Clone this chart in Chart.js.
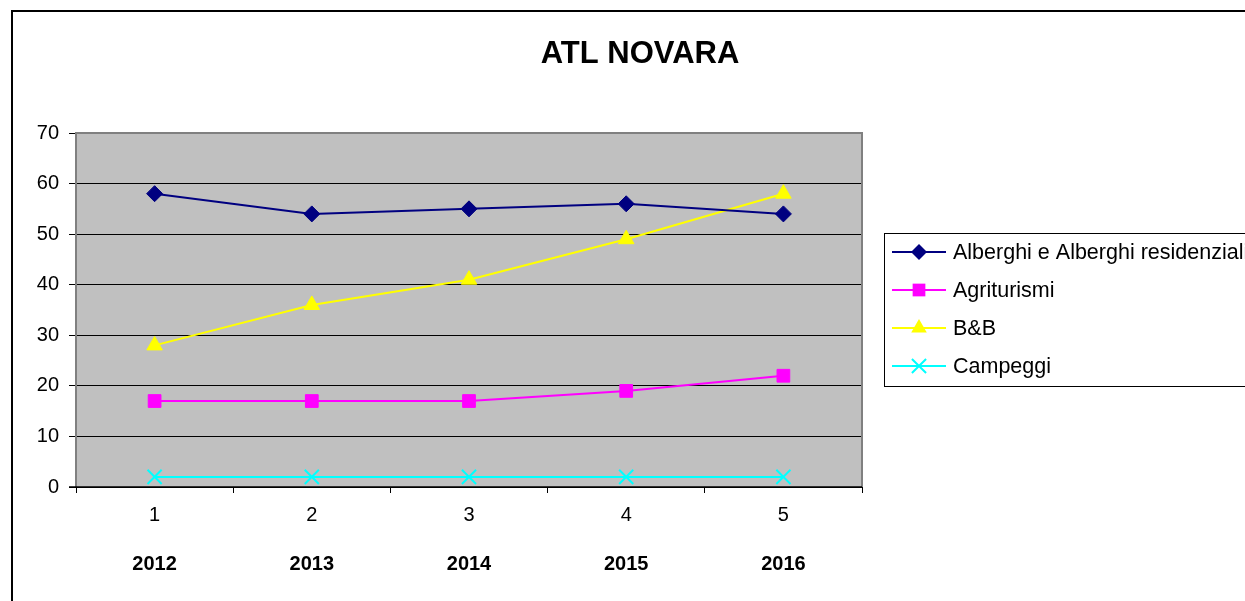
<!DOCTYPE html>
<html>
<head>
<meta charset="utf-8">
<script src="https://cdn.jsdelivr.net/npm/chart.js@4.4.0/dist/chart.umd.min.js"></script>
<style>
html,body{margin:0;padding:0;background:#fff;}
#wrap{width:1245px;height:601px;position:relative;}
</style>
</head>
<body>
<div id="wrap"><canvas id="c" width="1245" height="601"></canvas></div>
<script>
const chartTitle = "ATL NOVARA";
const indexLabels = ["1", "2", "3", "4", "5"];
const years = ["2012", "2013", "2014", "2015", "2016"];
const seriesNames = ["Alberghi e Alberghi residenziali", "Agriturismi", "B&B", "Campeggi"];
const alberghi = [58, 54, 55, 56, 54];
const agriturismi = [17, 17, 17, 19, 22];
const bb = [28, 36, 41, 49, 58];
const campeggi = [2, 2, 2, 2, 2];
const yTicks = [0, 10, 20, 30, 40, 50, 60, 70];

const FONT = '"Liberation Sans", Arial, sans-serif';
const colors = ["#000080", "#FF00FF", "#FFFF00", "#00FFFF"];
const styles = ["rectRot", "rect", "triangle", "crossRot"];
const radii = [8, 9, 9, 10];
const values = [alberghi, agriturismi, bb, campeggi];

const datasets = values.map((v, i) => ({
  label: seriesNames[i],
  data: v,
  xAxisID: 'x',
  borderColor: colors[i],
  backgroundColor: colors[i],
  pointBackgroundColor: colors[i],
  pointBorderColor: colors[i],
  pointStyle: styles[i],
  pointRadius: radii[i],
  pointHoverRadius: radii[i],
  pointBorderWidth: i === 3 ? 2 : 1,
  borderWidth: 2,
  tension: 0,
  fill: false
}));

function drawMarker(ctx, style, r, x, y, color) {
  ctx.save();
  ctx.fillStyle = color;
  ctx.strokeStyle = color;
  ctx.beginPath();
  if (style === 'rectRot') {
    ctx.moveTo(x, y - r); ctx.lineTo(x + r, y); ctx.lineTo(x, y + r); ctx.lineTo(x - r, y); ctx.closePath(); ctx.fill();
  } else if (style === 'rect') {
    const s = r * Math.SQRT1_2;
    ctx.rect(x - s, y - s, 2 * s, 2 * s); ctx.fill();
  } else if (style === 'triangle') {
    ctx.moveTo(x, y - r); ctx.lineTo(x + r * Math.sin(Math.PI / 3), y + r / 2); ctx.lineTo(x - r * Math.sin(Math.PI / 3), y + r / 2); ctx.closePath(); ctx.fill();
  } else {
    const s = r * Math.SQRT1_2;
    ctx.lineWidth = 2;
    ctx.moveTo(x - s, y - s); ctx.lineTo(x + s, y + s);
    ctx.moveTo(x + s, y - s); ctx.lineTo(x - s, y + s); ctx.stroke();
  }
  ctx.restore();
}

const decor = {
  id: 'decor',
  beforeDraw(chart) {
    const ctx = chart.ctx, a = chart.chartArea;
    ctx.save();
    ctx.fillStyle = '#fff';
    ctx.fillRect(0, 0, chart.width, chart.height);
    ctx.fillStyle = '#C0C0C0';
    ctx.fillRect(a.left, a.top, a.right - a.left, a.bottom - a.top);
    ctx.restore();
  },
  beforeDatasetsDraw(chart) {
    const ctx = chart.ctx, a = chart.chartArea;
    ctx.save();
    ctx.strokeStyle = '#808080';
    ctx.lineWidth = 2;
    ctx.beginPath();
    ctx.moveTo(a.left, a.bottom); ctx.lineTo(a.left, a.top); ctx.lineTo(a.right, a.top); ctx.lineTo(a.right, a.bottom);
    ctx.stroke();
    ctx.strokeStyle = '#000';
    ctx.lineWidth = 1.5;
    ctx.beginPath();
    ctx.moveTo(a.left - 7, a.bottom); ctx.lineTo(a.right, a.bottom);
    ctx.stroke();
    ctx.restore();
  },
  afterDraw(chart) {
    const ctx = chart.ctx;
    ctx.save();
    ctx.strokeStyle = '#000';
    ctx.lineWidth = 2;
    ctx.strokeRect(12, 11, 1400, 800);
    ctx.fillStyle = '#000';
    ctx.font = 'bold 31px ' + FONT;
    ctx.textAlign = 'center';
    ctx.textBaseline = 'middle';
    ctx.fillText(chartTitle, 640, 54);
    ctx.lineWidth = 1;
    ctx.strokeStyle = '#000';
    ctx.strokeRect(884.5, 233.5, 500, 153);
    const rows = [252, 290, 328, 366];
    ctx.font = '21.5px ' + FONT;
    ctx.textAlign = 'left';
    chart.data.datasets.forEach((ds, i) => {
      const y = rows[i];
      ctx.strokeStyle = ds.borderColor;
      ctx.lineWidth = 2;
      ctx.beginPath();
      ctx.moveTo(892, y); ctx.lineTo(946, y); ctx.stroke();
      drawMarker(ctx, ds.pointStyle, ds.pointRadius, 919, y, ds.borderColor);
      ctx.fillStyle = '#000';
      ctx.fillText(ds.label, 953, y + 1);
    });
    ctx.restore();
  }
};

new Chart(document.getElementById('c'), {
  type: 'line',
  data: { labels: indexLabels, datasets },
  plugins: [decor],
  options: {
    responsive: false,
    animation: false,
    devicePixelRatio: 1,
    layout: { padding: { top: 133, right: 383, left: 0, bottom: 0 } },
    plugins: {
      legend: { display: false },
      title: { display: false },
      tooltip: { enabled: false }
    },
    scales: {
      x: {
        type: 'category',
        position: 'bottom',
        offset: true,
        labels: indexLabels,
        grid: { display: true, drawOnChartArea: false, offset: true, color: '#000', tickLength: 6, lineWidth: 1 },
        border: { display: false },
        ticks: { color: '#000', font: { family: FONT, size: 20 }, padding: 10, maxRotation: 0 },
        afterFit(s) { s.height = 55; }
      },
      x2: {
        type: 'category',
        position: 'bottom',
        offset: true,
        labels: years,
        grid: { display: false, drawTicks: false },
        border: { display: false },
        ticks: { color: '#000', font: { family: FONT, size: 20, weight: 'bold' }, padding: 10, maxRotation: 0 },
        afterFit(s) { s.height = 59; }
      },
      y: {
        min: 0,
        max: 70,
        afterBuildTicks(s) { s.ticks = yTicks.map(v => ({ value: v })); },
        grid: { color: '#000', tickColor: '#000', tickLength: 7, lineWidth: 1 },
        border: { display: false },
        ticks: { color: '#000', font: { family: FONT, size: 20 }, padding: 10 },
        afterFit(s) { s.width = 76; }
      }
    }
  }
});
</script>
</body>
</html>
